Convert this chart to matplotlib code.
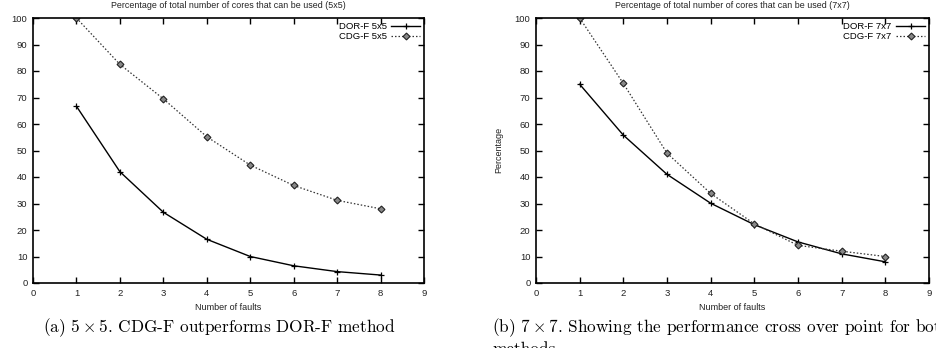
import numpy as np
import matplotlib
matplotlib.use("Agg")
import matplotlib.pyplot as plt

# data
faults = [1, 2, 3, 4, 5, 6, 7, 8]

dor5 = [66.7, 42.0, 26.7, 16.5, 10.0, 6.5, 4.3, 3.0]
cdg5 = [100.0, 82.5, 69.5, 55.2, 44.5, 36.8, 31.2, 28.0]

dor7 = [75.0, 55.8, 41.0, 30.1, 22.0, 15.5, 11.0, 8.0]
cdg7 = [100.0, 75.3, 49.0, 33.8, 22.3, 14.2, 12.0, 10.0]

titles = ["Percentage of total number of cores that can be used (5x5)",
          "Percentage of total number of cores that can be used (7x7)"]
labels5 = ["DOR-F 5x5", "CDG-F 5x5"]
labels7 = ["DOR-F 7x7", "CDG-F 7x7"]
captions = [r"(a) $5\times5$. CDG-F outperforms DOR-F method",
            r"(b) $7\times7$. Showing the performance cross over point for both"]

plt.rcParams['font.family'] = ['Liberation Sans', 'DejaVu Sans']
plt.rcParams['mathtext.fontset'] = 'cm'

W, H = 936.0, 348.0
fig = plt.figure(figsize=(W / 100, H / 100), dpi=100)


def px(x0, y0, x1, y1):
    return [x0 / W, 1 - y1 / H, (x1 - x0) / W, (y1 - y0) / H]


def panel(rect, dor, cdg, labels, title, ylab_x):
    ax = fig.add_axes(px(*rect))
    ax.plot(faults, dor, color='black', lw=1.0, marker='+', ms=5, mew=0.9, label=labels[0])
    ax.plot(faults, cdg, color='#333333', lw=0.9, ls=(0, (1.2, 1.6)), marker='D', ms=3.5,
            mfc='#888888', mec='#222222', mew=0.8, label=labels[1])
    ax.set_xlim(0, 9)
    ax.set_ylim(0, 100)
    ax.set_xticks(np.arange(0, 10, 1))
    ax.set_yticks(np.arange(0, 101, 10))
    ax.tick_params(direction='in', top=True, right=True, length=4, width=1.0,
                   labelsize=6.8, pad=4, colors='black', labelcolor='#222222')
    for s in ax.spines.values():
        s.set_linewidth(1.2)
    ax.set_xlabel("Number of faults", fontsize=6.5, color='#222222', labelpad=4)
    ax.legend(loc='upper right', frameon=False, markerfirst=False, fontsize=6.8,
              handlelength=3.0, handletextpad=0.5, labelspacing=0.1,
              borderaxespad=0.25, borderpad=0.2)
    cx = (rect[0] + rect[2]) / 2 / W
    fig.text(cx, 1 - 6 / H, title, ha='center', va='center', fontsize=6.4, color='#222222')
    fig.text(ylab_x / W, 1 - 150 / H, "Percentage", rotation=90, ha='center', va='center',
             fontsize=6.5, color='#222222')
    return ax


panel((33, 18, 424, 283), dor5, cdg5, labels5, titles[0], -4)
panel((536, 18, 929, 283), dor7, cdg7, labels7, titles[1], 499)

fig.text(43 / W, 1 - 328 / H, captions[0], ha='left', va='center', fontsize=12.4,
         family='cmr10')
fig.text(492 / W, 1 - 328 / H, captions[1], ha='left', va='center', fontsize=12.4,
         family='cmr10')
fig.text(492 / W, 1 - 349 / H, "methods", ha='left', va='center', fontsize=12.4,
         family='cmr10')

fig.savefig("out.png", dpi=100)
